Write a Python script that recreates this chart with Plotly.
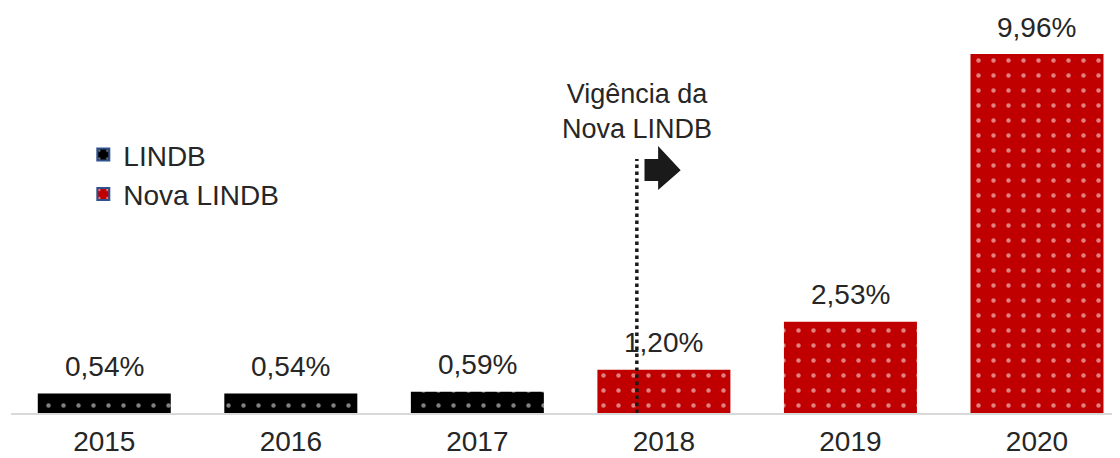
import plotly.graph_objects as go

years = ["2015", "2016", "2017", "2018", "2019", "2020"]
lindb_years = ["2015", "2016", "2017"]
lindb_values = [0.54, 0.54, 0.59]
nova_years = ["2018", "2019", "2020"]
nova_values = [1.20, 2.53, 9.96]
series_names = ["LINDB", "Nova LINDB"]
annotation_text = "Vigência da<br>Nova LINDB"

FONT = "Arial, 'Liberation Sans', sans-serif"
TXT = "#262626"
BLACK = "#000000"
RED = "#C00000"
BORDER = "#2F528F"


def fmt(v):
    return f"{v:.2f}".replace(".", ",") + "%"


def pattern(bg):
    return dict(shape=".", bgcolor=bg, fgcolor="#FFFFFF", size=15, solidity=0.07)


fig = go.Figure()

fig.add_trace(go.Bar(
    x=lindb_years, y=lindb_values, width=0.713,
    marker=dict(color=BLACK, pattern=pattern(BLACK), line=dict(width=0)),
    showlegend=False, name=series_names[0],
))
fig.add_trace(go.Bar(
    x=nova_years, y=nova_values, width=0.713,
    marker=dict(color=RED, pattern=pattern(RED), line=dict(width=0)),
    showlegend=False, name=series_names[1],
))
# legend entries
for name, col in zip(series_names, [BLACK, RED]):
    fig.add_trace(go.Bar(
        x=[None], y=[None], name=name,
        marker=dict(color=col, pattern=pattern(col), line=dict(color=BORDER, width=2)),
    ))

# value labels (category index positions)
for xs, vs in [(lindb_years, lindb_values), (nova_years, nova_values)]:
    for xv, v in zip(xs, vs):
        fig.add_annotation(x=years.index(xv), y=v, xref="x", yref="y", text=fmt(v),
                           showarrow=False, yanchor="middle", yshift=27,
                           font=dict(family=FONT, size=28, color=TXT))

# Vigência marker (dotted line + arrow)
x_line = 2.855
fig.add_shape(type="line", xref="x", yref="y", x0=x_line, x1=x_line, y0=0, y1=7.05,
              line=dict(color="#1a1a1a", width=3.5, dash="dot"), layer="above")
fig.add_shape(type="path", xref="x", yref="y",
              path="M 2.896 7.05 L 2.969 7.05 L 2.969 7.41 L 3.09 6.74 L 2.969 6.19 L 2.969 6.44 L 2.896 6.44 Z",
              fillcolor="#1a1a1a", line=dict(width=0), layer="above")
fig.add_annotation(x=x_line, y=8.38, xref="x", yref="y", text=annotation_text,
                   showarrow=False, font=dict(family=FONT, size=27, color=TXT),
                   align="center")

fig.update_layout(
    width=1112, height=450,
    margin=dict(l=3, r=0, t=0, b=45),
    paper_bgcolor="white", plot_bgcolor="white",
    barmode="overlay",
    font=dict(family=FONT, size=28, color=TXT),
    showlegend=True,
    legend=dict(x=0.0652, y=0.699, xanchor="left", yanchor="top",
                font=dict(family=FONT, size=28, color=TXT),
                bgcolor="rgba(0,0,0,0)"),
    xaxis=dict(type="category", categoryorder="array", categoryarray=years,
               range=[-0.5, 5.445], showline=True, linecolor="#D9D9D9", linewidth=2,
               ticks="", showgrid=False, zeroline=False, automargin=False,
               ticklabelstandoff=2,
               tickfont=dict(family=FONT, size=28, color=TXT)),
    yaxis=dict(range=[0, 11.24], visible=False, showgrid=False, zeroline=False,
               automargin=False),
)

fig.write_html("out.html")
